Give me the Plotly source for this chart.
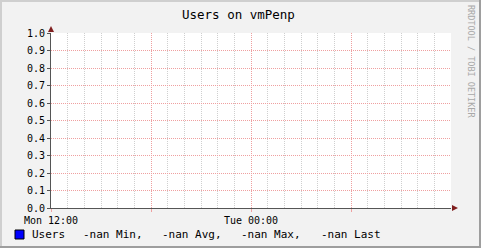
import plotly.graph_objects as go

# ---- data ----
title_text = "Users on vmPenp"
x_start = "2024-01-08 12:00"
x_end = "2024-01-09 12:00"
x_tick_vals = ["2024-01-08 12:00", "2024-01-08 18:00", "2024-01-09 00:00", "2024-01-09 06:00"]
x_tick_text = ["Mon 12:00", "", "Tue 00:00", ""]
y_tick_vals = [0.0, 0.1, 0.2, 0.3, 0.4, 0.5, 0.6, 0.7, 0.8, 0.9, 1.0]
y_tick_text = ["0.0", "0.1", "0.2", "0.3", "0.4", "0.5", "0.6", "0.7", "0.8", "0.9", "1.0"]
times = ["2024-01-08 12:00", "2024-01-08 18:00", "2024-01-09 00:00", "2024-01-09 06:00", "2024-01-09 12:00"]
users = [None, None, None, None, None]
series_name = "Users"
stat_values = ["-nan", "-nan", "-nan", "-nan"]
stat_names = ["Min,", "Avg,", "Max,", "Last"]
watermark = "RRDTOOL / TOBI OETIKER"

# ---- layout geometry (pixels) ----
W, H = 481, 248
L, R, T, B = 51, 30, 33, 40
PW, PH = W - L - R, H - T - B
FONT = "DejaVu Sans Mono"


def px(x):
    return (x - L) / PW


def py(y):
    return (H - B - y) / PH


fig = go.Figure()
fig.add_trace(go.Scatter(x=times, y=users, mode="lines", name=series_name,
                         line=dict(color="#0000FF", width=1), showlegend=False))

grid_major = "#EFA0A0"
grid_minor = "#CFCFCF"
axis_col = "#555555"
arrow_col = "#801F1F"

fig.update_layout(
    width=W, height=H, autosize=False,
    margin=dict(l=L, r=R, t=T, b=B, pad=0),
    paper_bgcolor="#F2F2F2", plot_bgcolor="#FFFFFF",
    showlegend=False,
    xaxis=dict(
        type="date", range=[x_start, x_end], tickmode="array",
        tickvals=x_tick_vals, ticktext=x_tick_text,
        showgrid=True, gridcolor=grid_major, griddash="1px,1px", gridwidth=1,
        ticks="outside", ticklen=3, tickcolor=grid_major,
        tickfont=dict(family=FONT, size=10, color="#000000"),
        showline=True, linecolor=axis_col, linewidth=1, zeroline=False,
        minor=dict(dtick=3600000, showgrid=True, gridcolor=grid_minor,
                   griddash="1px,1px", ticks=""),
        fixedrange=True,
    ),
    yaxis=dict(
        range=[0, 1], tickmode="array", tickvals=y_tick_vals, ticktext=y_tick_text,
        showgrid=True, gridcolor=grid_major, griddash="1px,1px", gridwidth=1,
        ticks="outside", ticklen=3, tickcolor=axis_col,
        tickfont=dict(family=FONT, size=10, color="#000000"),
        showline=True, linecolor=axis_col, linewidth=1, zeroline=False,
        fixedrange=True,
    ),
)

shapes = []
# arrows
shapes.append(dict(type="path", xref="paper", yref="paper", xsizemode="pixel", ysizemode="pixel",
                   xanchor=0, yanchor=1, path="M-3,1 L3,1 L0,7 Z",
                   fillcolor=arrow_col, line=dict(width=0)))
shapes.append(dict(type="path", xref="paper", yref="paper", xsizemode="pixel", ysizemode="pixel",
                   xanchor=1, yanchor=0, path="M1,3 L1,-3 L7,0 Z",
                   fillcolor=arrow_col, line=dict(width=0)))
# 3D border
def rect(x0, y0, x1, y1, col):
    return dict(type="rect", xref="paper", yref="paper", x0=px(x0), x1=px(x1),
                y0=py(y0), y1=py(y1), fillcolor=col, line=dict(width=0), layer="above")

shapes.append(rect(0, 0, W, 2, "#CFCFCF"))
shapes.append(rect(0, 0, 2, H, "#CFCFCF"))
shapes.append(rect(0, H - 2, W, H, "#9E9E9E"))
shapes.append(rect(W - 2, 0, W, H, "#9E9E9E"))
# legend swatch
shapes.append(dict(type="rect", xref="paper", yref="paper", x0=px(15), x1=px(24),
                   y0=py(239), y1=py(230), fillcolor="#0000FF",
                   line=dict(color="#000000", width=1)))
fig.update_layout(shapes=shapes)

ann = []
ann.append(dict(text=title_text, x=px(238), y=py(14), xref="paper", yref="paper",
                showarrow=False, xanchor="center", yanchor="middle",
                font=dict(family=FONT, size=12.5, color="#000000")))
ann.append(dict(text=watermark, x=px(471), y=py(61), xref="paper", yref="paper",
                showarrow=False, xanchor="center", yanchor="middle", textangle=90,
                font=dict(family=FONT, size=8.5, color="#A8A8A8")))
leg_x = [30, 81, 160, 239, 319]
leg_texts = [series_name] + [v + " " + n for v, n in zip(stat_values, stat_names)]
for x, t in zip(leg_x, leg_texts):
    ann.append(dict(text=t, x=px(x), y=py(234.5), xref="paper", yref="paper",
                    showarrow=False, xanchor="left", yanchor="middle",
                    font=dict(family=FONT, size=11, color="#000000")))
fig.update_layout(annotations=ann)

fig.write_html("out.html")
